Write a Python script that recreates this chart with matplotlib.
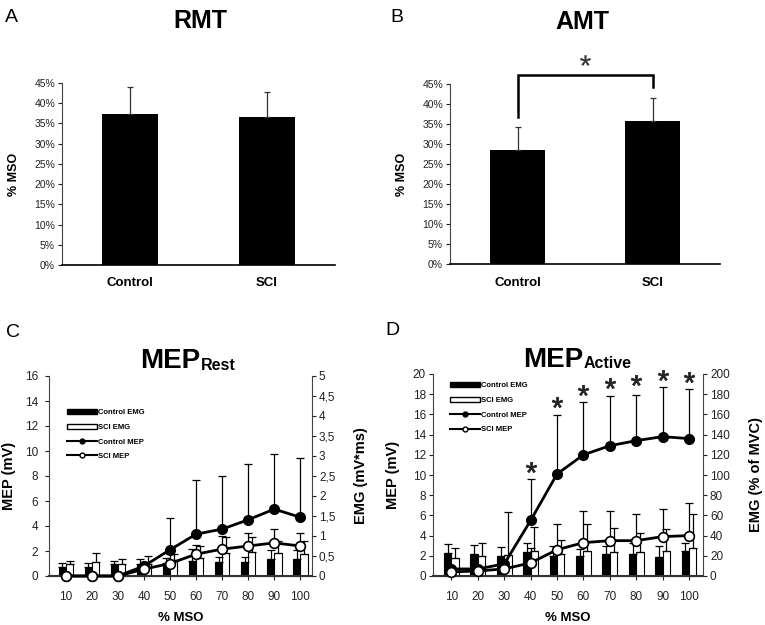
import matplotlib
matplotlib.use("Agg")
import matplotlib.pyplot as plt
from matplotlib.lines import Line2D
from matplotlib.patches import Patch
import numpy as np

plt.rcParams['font.family'] = ['Liberation Sans', 'DejaVu Sans']
plt.rcParams['mathtext.fontset'] = 'custom'
plt.rcParams['mathtext.rm'] = 'Liberation Sans'
plt.rcParams['mathtext.bf'] = 'Liberation Sans:bold'

W, H = 765, 625

# --- data -------------------------------------------------------------
groups = ["Control", "SCI"]
rmt_mean = [0.373, 0.367]
rmt_sd = [0.066, 0.061]
amt_mean = [0.285, 0.358]
amt_sd = [0.058, 0.058]

mso = ["10", "20", "30", "40", "50", "60", "70", "80", "90", "100"]

# panel C, rest (MEP in mV, EMG in mV*ms)
rest_ctrl_mep = [0, 0, 0, 0.8, 2.1, 3.35, 3.75, 4.5, 5.35, 4.7]
rest_ctrl_mep_sd = [0, 0, 0, 0.3, 2.55, 4.3, 4.25, 4.45, 4.4, 4.75]
rest_sci_mep = [0, 0, 0, 0.55, 1.0, 1.75, 2.15, 2.4, 2.65, 2.4]
rest_sci_mep_sd = [0, 0, 0, 0.3, 0.8, 0.75, 1.05, 1.05, 1.15, 1.05]
rest_ctrl_emg = [0.23, 0.22, 0.29, 0.29, 0.33, 0.375, 0.35, 0.35, 0.43, 0.43]
rest_ctrl_emg_sd = [0.1, 0.1, 0.08, 0.13, 0.12, 0.3, 0.13, 0.13, 0.22, 0.22]
rest_sci_emg = [0.3, 0.34, 0.3, 0.3, 0.4, 0.46, 0.57, 0.6, 0.58, 0.55]
rest_sci_emg_sd = [0.07, 0.23, 0.12, 0.2, 0.15, 0.3, 0.4, 0.37, 0.3, 0.32]

# panel D, active (MEP in mV, EMG in % of MVC)
act_ctrl_mep = [0.7, 0.7, 1.2, 5.5, 10.1, 12.0, 12.9, 13.4, 13.8, 13.6]
act_ctrl_mep_sd = [0.3, 0.3, 0.5, 4.1, 5.8, 5.2, 4.9, 4.5, 4.9, 4.9]
act_sci_mep = [0.4, 0.5, 0.7, 1.3, 2.6, 3.3, 3.5, 3.5, 3.9, 4.0]
act_sci_mep_sd = [0.3, 0.3, 0.5, 1.5, 2.5, 3.1, 2.9, 2.6, 2.7, 3.2]
act_ctrl_emg = [22.5, 22, 20, 23.5, 20, 20, 21.5, 21.5, 19.3, 25]
act_ctrl_emg_sd = [9, 8.5, 9, 9.5, 10, 7, 8, 11.5, 10.7, 8]
act_sci_emg = [18, 20, 21, 25, 22, 25, 23.5, 23.5, 25, 27.5]
act_sci_emg_sd = [9.5, 13, 42, 24, 14, 26, 24, 19.5, 22, 33.5]

# significance stars in D (category index, MEP height)
star_idx = [3, 4, 5, 6, 7, 8, 9]
star_y = [10.8, 17.2, 18.4, 19.1, 19.4, 19.9, 19.7]


def box(l, t, r, b):
    return [l / W, 1 - b / H, (r - l) / W, (b - t) / H]


def bar_panel(ax, means, sds, labelpad):
    x = np.arange(len(groups))
    ax.bar(x, means, width=0.41, color='black',
           yerr=[[0, 0], sds], capsize=2,
           error_kw=dict(elinewidth=0.9, capthick=0.9, ecolor='#333333'))
    ax.set_xlim(-0.5, 1.5)
    ax.set_ylim(0, 0.45)
    ticks = np.arange(0, 0.451, 0.05)
    ax.set_yticks(ticks, [f"{int(round(t * 100))}%" for t in ticks])
    ax.set_xticks(x, groups, fontweight='bold', fontsize=9.5)
    ax.tick_params(axis='x', length=0, pad=9)
    ax.tick_params(axis='y', labelsize=7.5, length=3, width=0.8, pad=2,
                   colors='#222222')
    for s in ['top', 'right']:
        ax.spines[s].set_visible(False)
    ax.spines['left'].set_color('#444444')
    ax.spines['bottom'].set_linewidth(1.2)
    ax.set_ylabel('% MSO', fontweight='bold', fontsize=9, labelpad=labelpad)


def emg_mep_panel(ax, ctrl_mep, ctrl_mep_sd, sci_mep, sci_mep_sd,
                  ctrl_emg, ctrl_emg_sd, sci_emg, sci_emg_sd,
                  mep_max, emg_max, emg_step, emg_labels, emg_label,
                  xlim, lpad, rpad, lticks_pad, legend_anchor):
    x = np.arange(len(mso))
    zeros = np.zeros(len(mso))
    ax2 = ax.twinx()
    ekw = dict(elinewidth=0.9, capthick=0.9, ecolor='black')
    ax2.bar(x - 0.14, ctrl_emg, 0.28, color='black', edgecolor='black', lw=0.8,
            yerr=[zeros, ctrl_emg_sd], capsize=3, error_kw=ekw)
    ax2.bar(x + 0.14, sci_emg, 0.28, color='white', edgecolor='black', lw=0.8,
            yerr=[zeros, sci_emg_sd], capsize=3, error_kw=ekw)
    ax.errorbar(x, ctrl_mep, yerr=[zeros, ctrl_mep_sd], fmt='none', capsize=3, **ekw)
    ax.errorbar(x, sci_mep, yerr=[zeros, sci_mep_sd], fmt='none', capsize=3, **ekw)
    ax.plot(x, ctrl_mep, '-o', color='black', lw=2, ms=7, mfc='black', mec='black',
            clip_on=False, zorder=4)
    ax.plot(x, sci_mep, '-o', color='black', lw=2, ms=7, mfc='white', mec='black',
            mew=1.2, clip_on=False, zorder=5)
    ax.set_zorder(ax2.get_zorder() + 1)
    ax.patch.set_visible(False)

    ax.set_xlim(*xlim)
    ax2.set_xlim(*xlim)
    ax.set_ylim(0, mep_max)
    ax.set_yticks(np.arange(0, mep_max + 0.1, 2))
    ax2.set_ylim(0, emg_max)
    ax2.set_yticks(np.arange(0, emg_max + 0.01, emg_step), emg_labels)
    ax.set_xticks(x, mso)
    ax.tick_params(axis='x', length=3, width=0.8, labelsize=8.5, pad=8, colors='#222222')
    ax.tick_params(axis='y', length=3, width=0.8, labelsize=8.5, pad=lticks_pad, colors='#222222')
    ax2.tick_params(axis='y', length=3, width=0.8, labelsize=8.5, pad=2, colors='#222222')
    for a in (ax, ax2):
        a.spines['top'].set_visible(False)
    ax.spines['right'].set_visible(False)
    ax2.spines['left'].set_visible(False)
    ax.spines['left'].set_color('#444444')
    ax2.spines['right'].set_color('#444444')
    ax.spines['bottom'].set_linewidth(1.5)
    ax.spines['bottom'].set_color('#333333')
    ax.set_xlabel('% MSO', fontweight='bold', fontsize=9.5, labelpad=6)
    ax.set_ylabel('MEP (mV)', fontweight='bold', fontsize=10.5, labelpad=lpad)
    ax2.set_ylabel(emg_label, fontweight='bold', fontsize=10.5, labelpad=rpad)

    handles = [
        Patch(facecolor='black', edgecolor='black'),
        Patch(facecolor='white', edgecolor='black'),
        Line2D([], [], color='black', lw=1.5, marker='o', ms=3.5, mfc='black'),
        Line2D([], [], color='black', lw=1.5, marker='o', ms=3.5, mfc='white'),
    ]
    labels = ['Control EMG', 'SCI EMG', 'Control MEP', 'SCI MEP']
    ax.legend(handles, labels, loc='upper left', bbox_to_anchor=legend_anchor,
              frameon=False, prop=dict(size=5.5, weight='bold'),
              handlelength=3.9, handleheight=0.7, handletextpad=0.2,
              labelspacing=0.95, borderpad=0, borderaxespad=0)
    return ax2


fig = plt.figure(figsize=(W / 100, H / 100), dpi=100)
fig.patch.set_facecolor('white')

axA = fig.add_axes(box(62, 83, 335, 265))
bar_panel(axA, rmt_mean, rmt_sd, 10)

axB = fig.add_axes(box(450, 84, 720, 264))
bar_panel(axB, amt_mean, amt_sd, 10)
axB.plot([0, 0, 1, 1], [0.368, 0.472, 0.472, 0.442], color='black', lw=1.8,
         clip_on=False, solid_joinstyle='miter')
axB.plot([0.5], [0.51], marker=r'$*$', ms=7.5, color='#333333', mew=0.2,
         clip_on=False, ls='none')

axC = fig.add_axes(box(49, 376, 312, 576))
emg_mep_panel(axC, rest_ctrl_mep, rest_ctrl_mep_sd, rest_sci_mep, rest_sci_mep_sd,
              rest_ctrl_emg, rest_ctrl_emg_sd, rest_sci_emg, rest_sci_emg_sd,
              16, 5, 0.5,
              ['0', '0,5', '1', '1,5', '2', '2,5', '3', '3,5', '4', '4,5', '5'],
              'EMG (mV*ms)', (-0.65, 9.45), 6, 13, 5, (0.068, 0.835))

axD = fig.add_axes(box(433, 374, 703, 576))
emg_mep_panel(axD, act_ctrl_mep, act_ctrl_mep_sd, act_sci_mep, act_sci_mep_sd,
              act_ctrl_emg, act_ctrl_emg_sd, act_sci_emg, act_sci_emg_sd,
              20, 200, 20, [str(v) for v in range(0, 201, 20)],
              'EMG (% of MVC)', (-0.7, 9.53), 9, 14, 2, (0.063, 0.96))
axD.plot(star_idx, star_y, ls='none', marker=r'$*$', ms=7.5, color='#222222',
         mew=0.6, clip_on=False, zorder=6)

# titles and panel letters
fig.text(200 / W, 1 - 28 / H, 'RMT', ha='center', va='baseline',
         fontsize=18, fontweight='bold')
fig.text(582 / W, 1 - 29 / H, 'AMT', ha='center', va='baseline',
         fontsize=18, fontweight='bold')
fig.text(200 / W, 1 - 368 / H, 'MEP', ha='right', va='baseline',
         fontsize=20, fontweight='bold')
fig.text(201 / W, 1 - 370 / H, 'Rest', ha='left', va='baseline',
         fontsize=11.5, fontweight='bold')
fig.text(583 / W, 1 - 367 / H, 'MEP', ha='right', va='baseline',
         fontsize=20, fontweight='bold')
fig.text(584 / W, 1 - 368 / H, 'Active', ha='left', va='baseline',
         fontsize=11.5, fontweight='bold')

for letter, (lx, ly) in zip('ABCD', [(5, 22), (390, 22), (6, 337), (385, 335)]):
    fig.text(lx / W, 1 - ly / H, letter, ha='left', va='baseline', fontsize=14)

fig.savefig('out.png', dpi=100, facecolor='white')
